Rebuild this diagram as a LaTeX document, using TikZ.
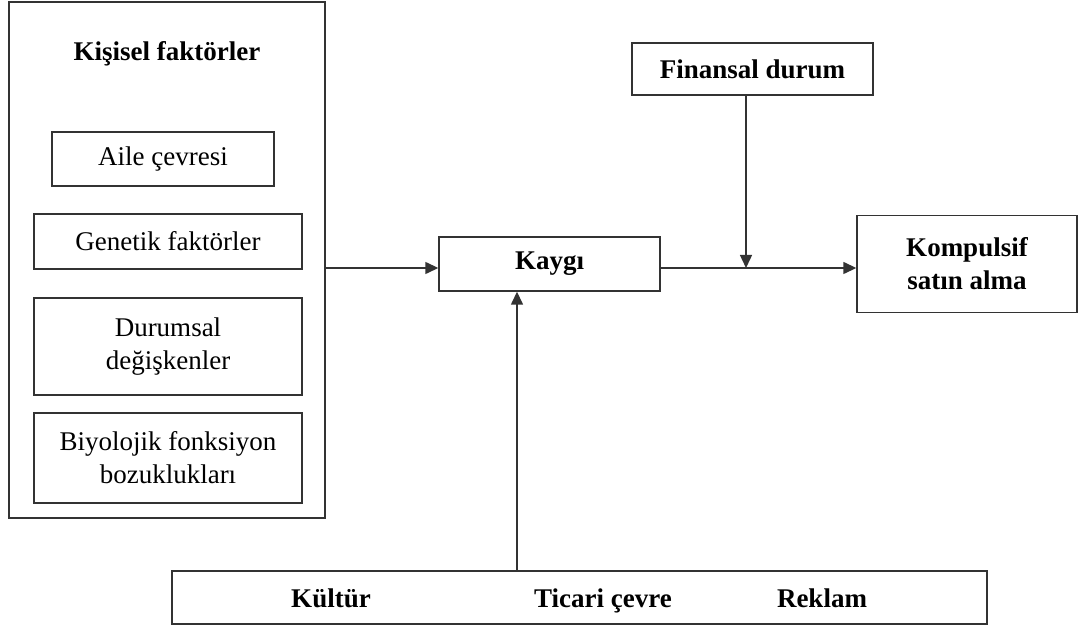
\documentclass[tikz,border=0pt]{standalone}
\usepackage{fontspec}
\setmainfont{Liberation Serif}
\usetikzlibrary{arrows.meta}
\begin{document}
\begin{tikzpicture}[x=1pt,y=-1pt,
  every node/.style={font=\fontsize{27}{33}\selectfont},
  box/.style={draw=black!80, line width=1.4pt, inner sep=0pt, align=center},
  bbox/.style={box, font=\fontsize{27}{33}\selectfont\bfseries},
  label/.style={anchor=base, font=\fontsize{27}{33}\selectfont\bfseries},
  arr/.style={draw=black!80, line width=1.4pt, -{Triangle[length=13pt,width=12pt]}},
  ln/.style={draw=black!80, line width=1.4pt}]
\useasboundingbox (0,0) rectangle (1082,628);

% personal factors group
\node[box, minimum width=316pt, minimum height=516pt] (kisisel) at (167,260) {};
\node[label] (kisiselT) at (167,61) {Kişisel faktörler};
\node[box, minimum width=222pt, minimum height=54pt] (aile) at (163,159) {Aile çevresi};
\node[box, minimum width=268pt, minimum height=55pt] (genetik) at (168,241.5) {Genetik faktörler};
\node[box, minimum width=268pt, minimum height=97pt] (durumsal) at (168,346.5) {Durumsal\\değişkenler};
\node[box, minimum width=268pt, minimum height=90pt] (biyo) at (168,458) {Biyolojik fonksiyon\\bozuklukları};

% central chain
\node[bbox, minimum width=221pt, minimum height=54pt] (kaygi) at (549.5,264) {Kaygı};
\node[bbox, minimum width=241pt, minimum height=52pt] (finans) at (752.5,69) {Finansal durum};
\node[bbox, minimum width=220pt, minimum height=97pt] (kompulsif) at (967,264) {Kompulsif\\satın alma};

% environmental factors
\node[box, minimum width=815pt, minimum height=53pt] (cevre) at (579.5,597.5) {};
\node[label] (kultur) at (331,607) {Kültür};
\node[label] (ticari) at (603,607) {Ticari çevre};
\node[label] (reklam) at (822,607) {Reklam};

% connectors
\coordinate (join) at (746,268);
\draw[arr] (kisisel.east |- 0,268) -- (kaygi.west |- 0,268);
\draw[ln] (kaygi.east |- 0,268) -- (join);
\draw[arr] (join) -- (kompulsif.west |- 0,268);
\draw[arr] (finans.south -| join) -- (join);
\draw[arr] (cevre.north -| 517,0) -- (kaygi.south -| 517,0);
\end{tikzpicture}
\end{document}
